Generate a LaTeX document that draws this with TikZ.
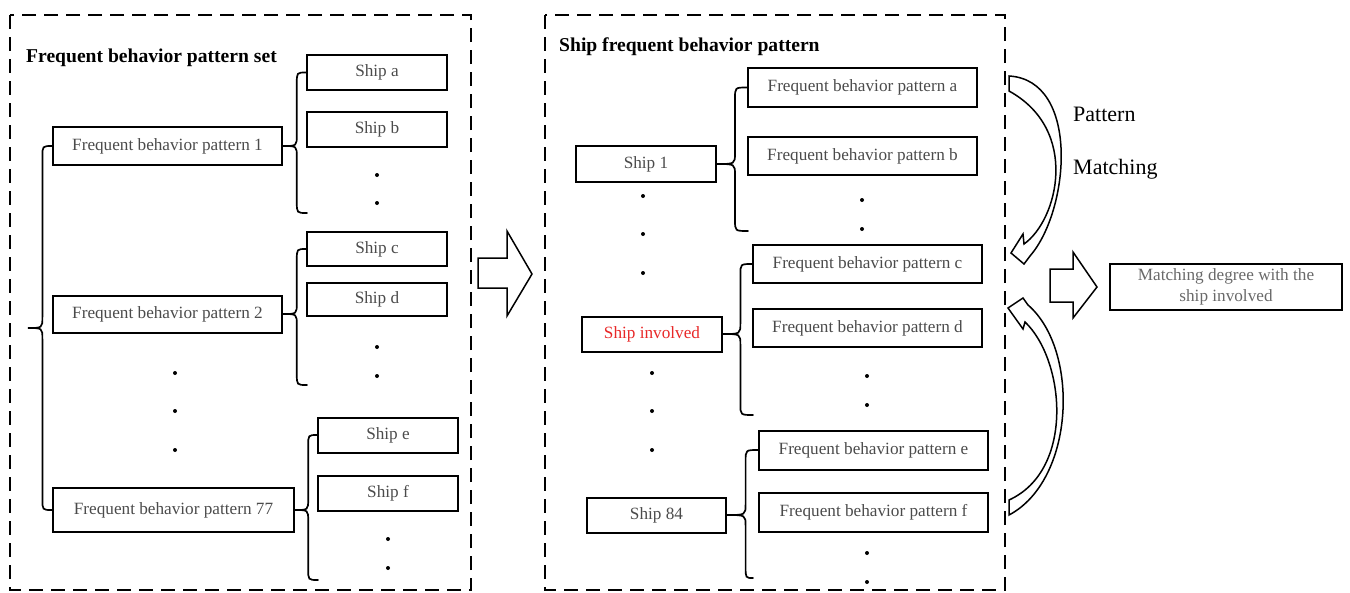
\documentclass[tikz,border=0pt]{standalone}
\usepackage{fontspec}
\setmainfont{Liberation Serif}
\usetikzlibrary{calc}
\definecolor{boxtext}{RGB}{75,75,75}
\definecolor{restext}{RGB}{105,105,105}
\definecolor{redtext}{RGB}{232,40,40}
\newcommand\bracecurl[3]{%
  \draw[bracestyle] let \p1=(#1),\p2=(#2),\p3=(#3),\n1={\x1+0.6*(\x2-\x1)} in
    (\x2,\y2) .. controls (\n1,\y2) .. (\n1,\y2-11pt) -- (\n1,\y1+11pt)
    .. controls (\n1,\y1) .. (\x1,\y1)
    .. controls (\n1,\y1) .. (\n1,\y1-11pt) -- (\n1,\y3+11pt)
    .. controls (\n1,\y3) .. (\x3,\y3);}
\tikzset{
  bx/.style={draw, line width=2pt, inner sep=0pt, minimum width=#1, text=boxtext,
     font=\fontsize{17.2}{19}\selectfont},
  bx/.default=140pt,
  dotn/.style={circle, fill=black, inner sep=0pt, minimum size=4pt},
  bracestyle/.style={line width=1.7pt, line cap=round},
  frame/.style={line width=2.9pt, dash pattern=on 14pt off 8pt},
  title/.style={anchor=base west, inner sep=0pt, font=\fontsize{19.6}{21}\bfseries\selectfont},
  hollow/.style={draw, fill=white, line width=1.5pt, line join=miter},
  lbl/.style={anchor=base west, inner sep=0pt, font=\fontsize{22}{24}\selectfont},
}
\begin{document}
\begin{tikzpicture}[x=1pt,y=-1pt]
\useasboundingbox (0,0) rectangle (1350,592);
% frames
\draw[frame] (10,15) rectangle (471,590);
\draw[frame] (545,15) rectangle (1005,590);
\node[title] (t1) at (26,62) {Frequent behavior pattern set};
\node[title] (t2) at (559,51) {Ship frequent behavior pattern};
% left panel
\node[bx, minimum height=35pt] (shipa) at (377,72.5) {Ship a};
\node[bx, minimum height=35pt] (shipb) at (377,129.5) {Ship b};
\node[bx, minimum height=34pt] (shipc) at (377,249) {Ship c};
\node[bx, minimum height=33pt] (shipd) at (377,299.5) {Ship d};
\node[bx, minimum height=35pt] (shipe) at (388,435) {Ship e};
\node[bx, minimum height=35pt] (shipf) at (388,493.5) {Ship f};
\node[bx=229pt, minimum height=38pt] (fbp1) at (167.5,146) {Frequent behavior pattern 1};
\node[bx=229pt, minimum height=37pt] (fbp2) at (167.5,314) {Frequent behavior pattern 2};
\node[bx=241pt, minimum height=44pt] (fbp77) at (173.5,510) {Frequent behavior pattern 77};
\node[dotn] (l1) at (377,175) {};
\node[dotn] (l2) at (377,203) {};
\node[dotn] (l3) at (377,347) {};
\node[dotn] (l4) at (377,376) {};
\node[dotn] (l5) at (388,539) {};
\node[dotn] (l6) at (388,568) {};
\node[dotn] (l7) at (175,373) {};
\node[dotn] (l8) at (175,411) {};
\node[dotn] (l9) at (175,450) {};
\coordinate (bigtip) at (28,328);
\coordinate (e1) at (307,213);
\coordinate (e2) at (307,385);
\coordinate (e3) at (318,580);
\bracecurl{bigtip}{fbp1.west}{fbp77.west}
\bracecurl{fbp1.east}{shipa.west}{e1}
\bracecurl{fbp2.east}{shipc.west}{e2}
\bracecurl{fbp77.east}{shipe.west}{e3}
% right panel
\node[bx, minimum height=36pt] (ship1) at (646,164) {Ship 1};
\node[bx, minimum height=35pt, text=redtext] (shipinv) at (652,334) {Ship involved};
\node[bx=139pt, minimum height=35pt] (ship84) at (656.5,515) {Ship 84};
\node[bx=229pt, minimum height=39pt] (fbpa) at (862.5,87.5) {Frequent behavior pattern a};
\node[bx=229pt, minimum height=38pt] (fbpb) at (862.5,156) {Frequent behavior pattern b};
\node[bx=229pt, minimum height=38pt] (fbpc) at (867.5,264) {Frequent behavior pattern c};
\node[bx=229pt, minimum height=38pt] (fbpd) at (867.5,328) {Frequent behavior pattern d};
\node[bx=229pt, minimum height=39pt] (fbpe) at (873.5,450) {Frequent behavior pattern e};
\node[bx=229pt, minimum height=39pt] (fbpf) at (873.5,512.5) {Frequent behavior pattern f};
\node[dotn] (r1) at (643,196) {};
\node[dotn] (r2) at (643,234) {};
\node[dotn] (r3) at (643,273) {};
\node[dotn] (r4) at (652,373) {};
\node[dotn] (r5) at (652,411) {};
\node[dotn] (r6) at (652,450) {};
\node[dotn] (r7) at (862,200) {};
\node[dotn] (r8) at (862,229) {};
\node[dotn] (r9) at (867,376) {};
\node[dotn] (r10) at (867,405) {};
\node[dotn] (r11) at (867,553) {};
\node[dotn] (r12) at (867,582) {};
\coordinate (f1) at (748,231);
\coordinate (f2) at (753,415);
\coordinate (f3) at (753,578);
\bracecurl{ship1.east}{fbpa.west}{f1}
\bracecurl{shipinv.east}{fbpc.west}{f2}
\bracecurl{ship84.east}{fbpe.west}{f3}
% middle hollow arrow
\draw[hollow] (478,258) -- (507,258) -- (507,231) -- (532,274) -- (507,316) -- (507,288) -- (478,288) -- cycle;
% curved hollow arrows
\draw[hollow] (1011,253) -- (1023,234) -- (1024,244)
   .. controls (1058,220) and (1080,130) .. (1009,91) -- (1009,76)
   .. controls (1080,80) and (1070,210) .. (1030,256) -- (1024,264) -- cycle;
\draw[hollow] (1008,308) -- (1023,298) -- (1028,305)
   .. controls (1080,350) and (1075,480) .. (1009,515) -- (1009,500)
   .. controls (1075,470) and (1065,360) .. (1025,322) -- (1023,329) -- cycle;
\node[lbl] (pat) at (1073,121) {Pattern};
\node[lbl] (mat) at (1073,174) {Matching};
% right hollow arrow and result
\draw[hollow] (1050,269) -- (1073,269) -- (1073,252) -- (1097,287) -- (1073,318) -- (1073,302) -- (1050,302) -- cycle;
\node[draw, line width=1.5pt, minimum width=232pt, minimum height=46pt, inner sep=0pt,
      text=restext, align=center, font=\fontsize{17.2}{21}\selectfont] (res) at (1226,287)
      {Matching degree with the\\ship involved};
\end{tikzpicture}
\end{document}
